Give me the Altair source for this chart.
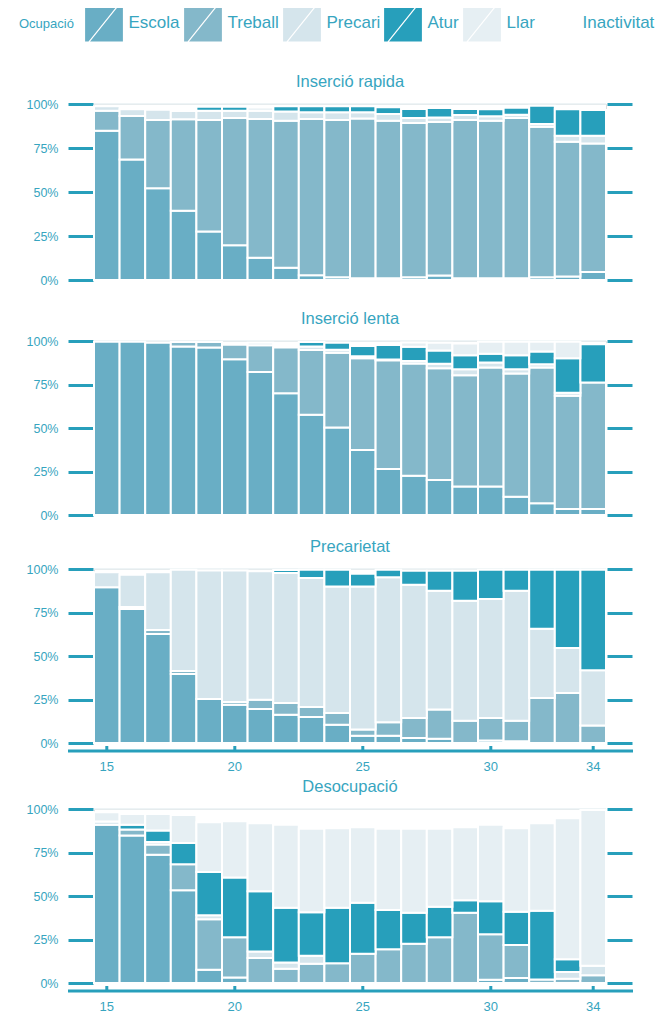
import altair as alt
import pandas as pd

AGES = list(range(15, 35))
CATS = ["Escola", "Treball", "Precari", "Atur", "Llar", "Inactivitat"]
COLORS = ["#69aec5", "#84b8ca", "#d5e5ec", "#279fbb", "#e6eff3", "#ffffff"]
TICK_AGES = [15, 20, 25, 30, 34]

# cumulative top of each category (percent), ages 15..34
rapida_escola = [84.8, 68.5, 52.2, 39.3, 27.5, 19.7, 12.7, 7.0, 2.7, 1.5, 1.0, 1.0, 1.5, 2.5, 1.0, 1.0, 1.0, 1.5, 2.0, 4.6]
rapida_treball = [96.2, 93.2, 90.9, 91.3, 90.9, 92.0, 91.5, 90.5, 91.5, 90.9, 91.7, 90.5, 89.2, 89.8, 90.9, 90.5, 92.0, 87.1, 78.6, 77.6]
rapida_precari = [98.7, 97.0, 96.8, 96.0, 96.2, 96.2, 96.2, 95.8, 95.3, 95.3, 95.3, 94.3, 92.0, 92.4, 93.7, 93.0, 93.9, 88.6, 82.0, 82.0]
rapida_atur = [98.7, 97.0, 96.8, 96.0, 98.4, 98.4, 96.2, 98.7, 98.7, 98.7, 98.7, 98.1, 97.2, 97.7, 97.2, 97.0, 97.9, 99.0, 97.0, 96.6]
rapida_llar = [98.7, 97.0, 96.8, 96.0, 98.4, 98.4, 98.0, 98.7, 98.7, 98.7, 98.7, 98.1, 97.2, 97.7, 97.2, 97.0, 97.9, 99.0, 97.0, 96.6]

lenta_escola = [99.6, 99.6, 99.0, 96.9, 96.2, 89.5, 82.2, 70.0, 57.6, 50.3, 37.3, 26.4, 22.6, 20.1, 16.4, 16.4, 10.5, 6.7, 3.4, 3.4]
lenta_treball = [99.6, 99.6, 99.0, 99.4, 99.4, 97.9, 97.5, 96.2, 94.8, 93.3, 90.1, 88.9, 87.0, 84.3, 80.3, 84.7, 81.3, 84.7, 68.5, 76.1]
lenta_precari = [99.6, 99.6, 99.0, 99.4, 99.4, 97.9, 99.0, 96.2, 96.9, 95.0, 91.2, 89.3, 88.5, 86.9, 83.7, 87.6, 83.7, 86.6, 70.3, 76.1]
lenta_atur = [99.6, 99.6, 99.0, 99.4, 99.4, 97.9, 99.0, 96.2, 99.4, 99.0, 97.1, 97.7, 96.7, 94.6, 91.8, 92.7, 91.8, 93.9, 90.1, 98.1]
lenta_llar = [99.6, 99.6, 99.0, 99.4, 99.4, 97.9, 99.0, 96.2, 99.4, 99.0, 97.1, 97.7, 99.2, 99.0, 98.5, 99.6, 99.6, 99.6, 99.6, 98.1]

prec_escola = [89.5, 77.0, 62.6, 39.7, 25.3, 22.0, 19.5, 16.3, 14.9, 10.5, 4.2, 4.2, 2.9, 2.5, 0.0, 1.5, 1.0, 0.0, 0.0, 0.0]
prec_treball = [89.5, 78.2, 64.9, 41.4, 25.3, 23.6, 24.9, 23.0, 20.7, 17.2, 7.7, 11.9, 14.4, 19.2, 12.8, 14.4, 12.8, 25.9, 28.7, 10.0]
prec_precari = [98.1, 96.7, 98.1, 99.6, 99.2, 99.2, 98.7, 97.7, 94.8, 90.0, 90.0, 95.2, 91.0, 87.5, 81.8, 82.8, 87.5, 65.7, 54.6, 41.8]
prec_atur = [98.1, 96.7, 98.1, 99.6, 99.2, 99.2, 98.7, 99.4, 99.6, 99.6, 97.3, 99.6, 99.0, 99.0, 99.0, 99.6, 99.6, 99.6, 99.6, 99.6]
prec_llar = [98.1, 96.7, 98.1, 99.6, 99.2, 99.2, 98.7, 99.4, 99.6, 99.6, 97.3, 99.6, 99.0, 99.0, 99.0, 99.6, 99.6, 99.6, 99.6, 99.6]

deso_escola = [90.9, 84.8, 73.7, 53.3, 7.6, 3.2, 0.0, 0.0, 0.0, 0.0, 0.0, 0.0, 0.0, 0.0, 0.0, 1.9, 2.9, 0.0, 0.0, 0.0]
deso_treball = [90.9, 88.2, 79.6, 68.2, 36.6, 26.3, 14.3, 8.2, 11.0, 11.4, 16.8, 19.4, 22.5, 26.3, 40.4, 28.0, 21.9, 2.0, 2.5, 4.4]
deso_precari = [92.8, 88.2, 81.0, 68.2, 39.0, 26.3, 18.1, 11.8, 15.6, 11.4, 16.8, 19.4, 22.5, 26.3, 40.4, 28.0, 21.9, 2.0, 6.3, 9.9]
deso_atur = [92.8, 91.0, 87.6, 80.4, 63.8, 60.6, 52.8, 43.2, 40.6, 43.2, 46.1, 41.9, 40.4, 43.8, 47.6, 47.0, 41.0, 41.5, 13.7, 9.9]
deso_llar = [98.1, 97.1, 97.1, 96.6, 92.4, 93.0, 91.8, 90.9, 88.6, 89.0, 89.5, 88.6, 88.6, 88.6, 89.5, 91.0, 89.0, 91.8, 94.7, 99.4]

PANELS = {
    "Inserció rapida": [rapida_escola, rapida_treball, rapida_precari, rapida_atur, rapida_llar],
    "Inserció lenta": [lenta_escola, lenta_treball, lenta_precari, lenta_atur, lenta_llar],
    "Precarietat": [prec_escola, prec_treball, prec_precari, prec_atur, prec_llar],
    "Desocupació": [deso_escola, deso_treball, deso_precari, deso_atur, deso_llar],
}

rows = []
for pname, tops in PANELS.items():
    prev = [0.0] * len(AGES)
    for cat, top in zip(CATS[:5], tops):
        cur = []
        for i, age in enumerate(AGES):
            lo = prev[i]
            hi = max(top[i], lo)
            cur.append(hi)
            if hi > lo:
                rows.append(dict(panel=pname, age=age, x0=age - 0.5, x1=age + 0.5,
                                 cat=cat, lo=lo / 100, hi=hi / 100))
        prev = cur
df = pd.DataFrame(rows)

FONT = "Liberation Sans"
TEAL = "#279fbb"
TXT = "#37a5c0"
W = 512

color = alt.Color(
    "cat:N",
    scale=alt.Scale(domain=CATS, range=COLORS),
    legend=alt.Legend(
        orient="none", legendX=-75, legendY=-101.5, direction="horizontal", columns=6,
        title="Ocupació", titleOrient="left", titleFontSize=13, titleFontWeight="normal",
        titleColor=TXT, titleFont=FONT, titlePadding=9.5, titleAnchor="middle", titleBaseline="middle",
        labelFontSize=17, labelFont=FONT, labelColor=TXT, labelOffset=4, columnPadding=0,
        symbolType="M-1,-0.97H1V0.97H-1Z M-0.78,0.97L0.78,-0.97",
        symbolSize=1521, symbolStrokeColor="white", symbolStrokeWidth=1.2, symbolOpacity=1,
        padding=0,
    ),
)

xscale = alt.Scale(domain=[14.5, 34.5], nice=False, zero=False)
yscale = alt.Scale(domain=[0, 1], nice=False)

left_axis = alt.Axis(values=[0, 0.25, 0.5, 0.75, 1], format="%", orient="left", offset=1,
                     tickSize=25, tickWidth=3, tickColor=TEAL, domain=False, grid=False,
                     labelFontSize=12.5, labelFont=FONT, labelColor=TXT, labelPadding=10, title=None)
right_axis = alt.Axis(values=[0, 0.25, 0.5, 0.75, 1], orient="right", offset=1,
                      tickSize=25, tickWidth=3, tickColor=TEAL, domain=False, grid=False,
                      labels=False, title=None)


def panel(name, h, show_x):
    grid = alt.Chart(alt.Data(values=[{"v": 0}, {"v": 1}])).mark_rule(
        color="#e8f0f3", strokeWidth=1.5
    ).encode(
        y=alt.Y("v:Q", scale=yscale, axis=right_axis),
        x=alt.value(0), x2=alt.value(W),
    )
    bars = alt.Chart(df).transform_filter(alt.datum.panel == name).mark_bar(
        stroke="white", strokeWidth=2
    ).encode(
        x=alt.X("x0:Q", scale=xscale, axis=None),
        x2="x1:Q",
        y=alt.Y("lo:Q", scale=yscale, axis=left_axis),
        y2="hi:Q",
        color=color,
    )
    layers = [grid, bars]
    if show_x:
        tickdf = pd.DataFrame({"age": TICK_AGES})
        line = alt.Chart(alt.Data(values=[{"a": 1}])).mark_rule(color=TEAL, strokeWidth=3).encode(
            x=alt.value(-26), x2=alt.value(W + 27), y=alt.value(h + 8)
        )
        ticks = alt.Chart(tickdf).mark_rule(color=TEAL, strokeWidth=3).encode(
            x=alt.X("age:Q", scale=xscale, axis=None),
            y=alt.value(h + 3), y2=alt.value(h + 8),
        )
        labels = alt.Chart(tickdf).mark_text(
            baseline="top", align="center", fontSize=13, font=FONT, color=TXT
        ).encode(
            x=alt.X("age:Q", scale=xscale, axis=None),
            y=alt.value(h + 18),
            text="age:Q",
        )
        layers += [line, ticks, labels]
    return alt.layer(*layers).resolve_axis(y="independent").properties(
        width=W, height=h,
        title=alt.TitleParams(name, fontSize=16.5, font=FONT, fontWeight="normal", color=TXT,
                              anchor="middle", frame="group", offset=8),
    )


p1 = panel("Inserció rapida", 176, False)
p2 = panel("Inserció lenta", 174, False)
p3 = panel("Precarietat", 174, True)
p4 = panel("Desocupació", 174, True)

top = alt.vconcat(p1, p2, spacing=23).resolve_scale(color="shared")
bottom = alt.vconcat(p3, p4, spacing=3).resolve_scale(color="shared")

chart = alt.vconcat(top, bottom, spacing=16).resolve_scale(color="shared").resolve_legend(
    color="shared"
).properties(
    padding={"left": 11, "top": -6, "right": 0, "bottom": 0}
).configure_view(strokeWidth=0).configure(font=FONT)

chart.save("out.html", embed_options={"renderer": "svg", "actions": False})
